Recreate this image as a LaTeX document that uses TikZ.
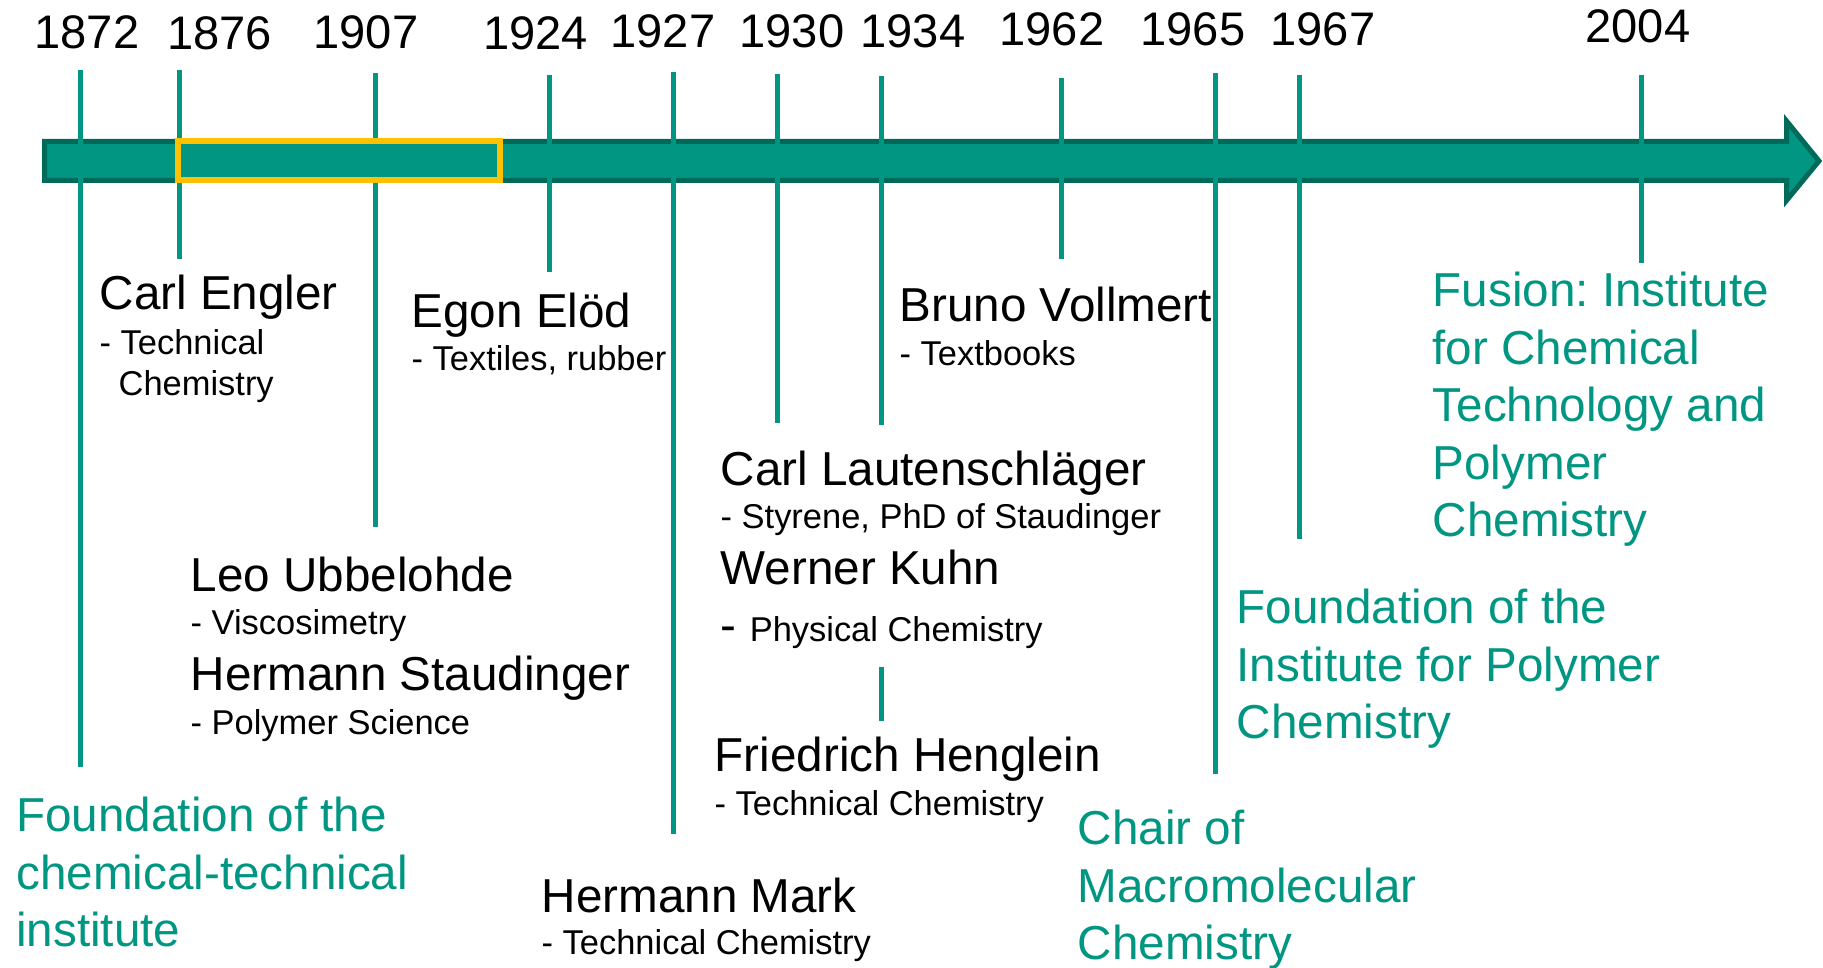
\documentclass[tikz,border=0pt]{standalone}
\usepackage{fontspec}
\setmainfont{Liberation Sans}
\usepackage{tikz}
\usetikzlibrary{calc}
\frenchspacing

\definecolor{kitgreen}{RGB}{0,150,130}
\definecolor{kitdark}{RGB}{0,106,90}
\definecolor{kityellow}{RGB}{255,192,0}

\tikzset{
	yearline/.style={kitgreen, line width=0.05cm},
	yearlabel/.style={anchor=base, inner sep=0pt, font=\fontsize{13.4}{16}\selectfont},
	person/.style={anchor=base west, inner sep=0pt, font=\fontsize{13.55}{16.4}\selectfont},
	topic/.style={anchor=base west, inner sep=0pt, align=left, font=\fontsize{9.8}{11.67}\selectfont},
	event/.style={anchor=base west, inner sep=0pt, align=left, text=kitgreen, font=\fontsize{13.55}{16.36}\selectfont}
}

\begin{document}
\begin{tikzpicture}
				\useasboundingbox (0,0) rectangle (18.23,-9.68);
				% time arrow
				\draw[kitdark, fill=kitgreen, line width=0.05cm] (0.445,-1.415)--(17.865,-1.415)--(17.865,-1.21)--(18.19,-1.61)--(17.865,-2.005)--(17.865,-1.805)--(0.445,-1.805)--cycle;
				% year lines
				\draw[yearline] (0.805,-0.70)--(0.805,-7.67);
				\draw[yearline] (1.795,-0.70)--(1.795,-2.59);
				\draw[yearline] (3.75,-0.73)--(3.75,-5.27);
				\draw[yearline] (5.49,-0.75)--(5.49,-2.72);
				\draw[yearline] (6.735,-0.72)--(6.735,-8.34);
				\draw[yearline] (7.77,-0.74)--(7.77,-4.23);
				\draw[yearline] (8.815,-0.76)--(8.815,-4.25);
				\draw[yearline] (8.815,-6.67)--(8.815,-7.21);
				\draw[yearline] (10.615,-0.78)--(10.615,-2.59);
				\draw[yearline] (12.155,-0.73)--(12.155,-7.74);
				\draw[yearline] (12.995,-0.75)--(12.995,-5.39);
				\draw[yearline] (16.41,-0.75)--(16.41,-2.63);
				% highlighted period
				\draw[kityellow, line width=0.06cm] (1.78,-1.407) rectangle (5.00,-1.803);
				% years
				\node[yearlabel] (y1872) at (0.87,-0.49) {1872};
				\node[yearlabel] (y1876) at (2.195,-0.50) {1876};
				\node[yearlabel] (y1907) at (3.66,-0.49) {1907};
				\node[yearlabel] (y1924) at (5.355,-0.50) {1924};
				\node[yearlabel] (y1927) at (6.63,-0.48) {1927};
				\node[yearlabel] (y1930) at (7.92,-0.48) {1930};
				\node[yearlabel] (y1934) at (9.13,-0.48) {1934};
				\node[yearlabel] (y1962) at (10.52,-0.46) {1962};
				\node[yearlabel] (y1965) at (11.93,-0.46) {1965};
				\node[yearlabel] (y1967) at (13.23,-0.46) {1967};
				\node[yearlabel] (y2004) at (16.38,-0.43) {2004};
				% people (multi-line nodes sit on their last baseline)
				\node[person] (engler) at (0.99,-3.10) {Carl Engler};
				\node[topic] (englertopic) at (0.99,-3.96) {- Technical\\\hspace*{0.19cm}Chemistry};
				\node[person] (elod) at (4.11,-3.28) {Egon Elöd};
				\node[topic] (elodtopic) at (4.11,-3.71) {- Textiles, rubber};
				\node[person] (vollmert) at (8.99,-3.22) {Bruno Vollmert};
				\node[topic] (vollmerttopic) at (8.99,-3.66) {- Textbooks};
				\node[person] (ubbelohde) at (1.90,-5.92) {Leo Ubbelohde};
				\node[topic] (ubbelohdetopic) at (1.90,-6.35) {- Viscosimetry};
				\node[person] (staudinger) at (1.90,-6.91) {Hermann Staudinger};
				\node[topic] (staudingertopic) at (1.90,-7.35) {- Polymer Science};
				\node[person] (lautenschlager) at (7.20,-4.86) {Carl Lautenschläger};
				\node[topic] (lautenschlagertopic) at (7.20,-5.29) {- Styrene, PhD of Staudinger};
				\node[person] (kuhn) at (7.20,-5.85) {Werner Kuhn};
				\node[topic] (kuhntopic) at (7.20,-6.42) {{\fontsize{13.55}{16.4}\selectfont- }Physical Chemistry};
				\node[person] (henglein) at (7.14,-7.72) {Friedrich Henglein};
				\node[topic] (hengleintopic) at (7.14,-8.16) {- Technical Chemistry};
				\node[person] (mark) at (5.41,-9.13) {Hermann Mark};
				\node[topic] (marktopic) at (5.41,-9.55) {- Technical Chemistry};
				% institute events
				\node[event] (e1872) at (0.156,-9.47) {Foundation of the\\chemical-technical\\institute};
				\node[event] (e1965) at (10.77,-9.60) {Chair of\\Macromolecular\\Chemistry};
				\node[event] (e1967) at (12.36,-7.39) {Foundation of the\\Institute for Polymer\\Chemistry};
				\node[event] (e2004) at (14.32,-5.37) {Fusion: Institute\\for Chemical\\Technology and\\Polymer\\Chemistry};
			\end{tikzpicture}
\end{document}
